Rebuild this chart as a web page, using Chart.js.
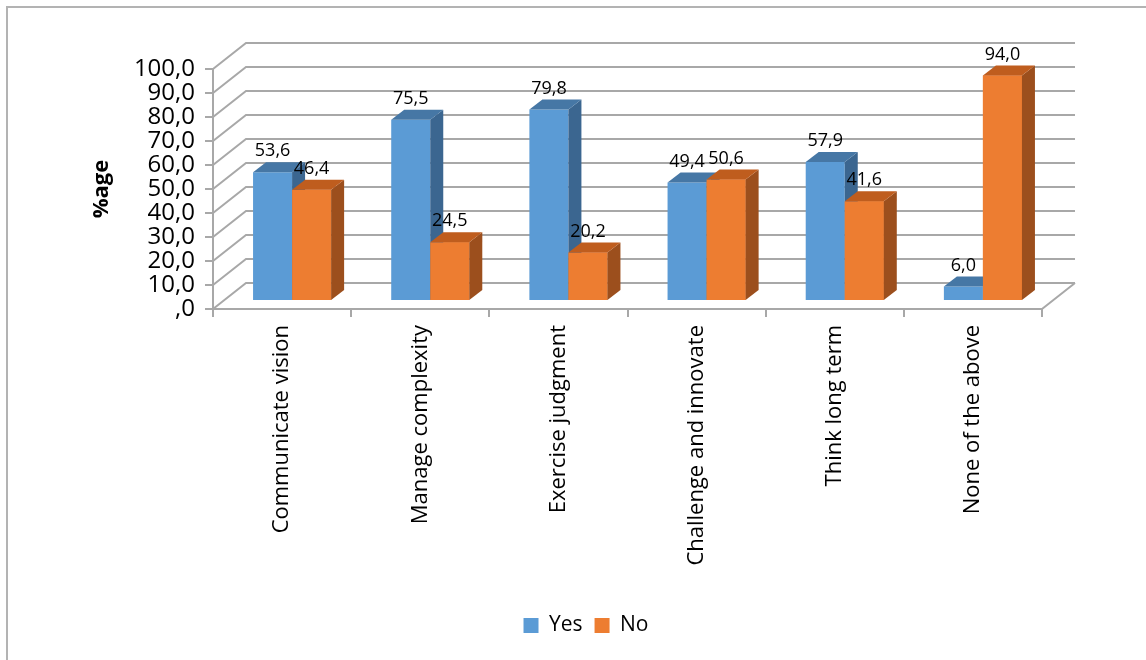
<!DOCTYPE html>
<html>
<head>
<meta charset="utf-8">
<script src="https://cdn.jsdelivr.net/npm/chart.js@4.4.1/dist/chart.umd.min.js"></script>
<style>
html, body { margin: 0; padding: 0; background: #fff; }
#wrap { width: 1146px; height: 660px; }
</style>
</head>
<body>
<div id="wrap"><canvas id="chart"></canvas></div>
<script>
var categories = ['Communicate vision', 'Manage complexity', 'Exercise judgment',
                  'Challenge and innovate', 'Think long term', 'None of the above'];
var yesValues = [53.6, 75.5, 79.8, 49.4, 57.9, 6.0];
var noValues = [46.4, 24.5, 20.2, 50.6, 41.6, 94.0];
var yTickLabels = [',0', '10,0', '20,0', '30,0', '40,0', '50,0', '60,0', '70,0', '80,0', '90,0', '100,0'];

// fake 3d offsets
var barShift = { x: 10, y: -8 };
var barDepth = { x: 13, y: -10 };
var wallShift = { x: 33, y: -26 };
var gridColor = '#a8a8a8';

function fmt(v) {
    return v.toFixed(1).replace('.', ',');
}

function drawFaces(ctx, bar, ds) {
    var p = bar.getProps(['x', 'y', 'base', 'width'], true);
    var l = p.x - p.width / 2, r = p.x + p.width / 2;
    ctx.fillStyle = ds.sideColor;
    ctx.beginPath();
    ctx.moveTo(r, p.y);
    ctx.lineTo(r + barDepth.x, p.y + barDepth.y);
    ctx.lineTo(r + barDepth.x, p.base + barDepth.y);
    ctx.lineTo(r, p.base);
    ctx.closePath();
    ctx.fill();
    ctx.fillStyle = ds.topColor;
    ctx.beginPath();
    ctx.moveTo(l, p.y);
    ctx.lineTo(r, p.y);
    ctx.lineTo(r + barDepth.x, p.y + barDepth.y);
    ctx.lineTo(l + barDepth.x, p.y + barDepth.y);
    ctx.closePath();
    ctx.fill();
}

var box3d = {
    id: 'box3d',
    beforeDraw: function (chart) {
        var ctx = chart.ctx;
        ctx.save();
        ctx.strokeStyle = '#b3b3b3';
        ctx.lineWidth = 2;
        ctx.strokeRect(7, 7, 1200, 700);
        ctx.restore();
    },
    beforeDatasetsDraw: function (chart) {
        var ctx = chart.ctx, ys = chart.scales.y, a = chart.chartArea;
        ctx.save();
        ctx.strokeStyle = gridColor;
        ctx.lineWidth = 2;
        ctx.beginPath();
        ys.ticks.forEach(function (t) {
            var py = ys.getPixelForValue(t.value);
            ctx.moveTo(a.left, py);
            ctx.lineTo(a.left + wallShift.x, py + wallShift.y);
            ctx.lineTo(a.right + wallShift.x, py + wallShift.y);
        });
        ctx.moveTo(a.right, a.bottom);
        ctx.lineTo(a.right + wallShift.x, a.bottom + wallShift.y);
        ctx.stroke();
        ctx.restore();
        // bars sit a little behind the front of the box
        ctx.save();
        ctx.translate(barShift.x, barShift.y);
    },
    afterDatasetsDraw: function (chart) {
        var ctx = chart.ctx;
        var sets = chart.data.datasets;
        var yesBars = chart.getDatasetMeta(0).data;
        var noBars = chart.getDatasetMeta(1).data;
        for (var j = 0; j < yesBars.length; j++) {
            drawFaces(ctx, yesBars[j], sets[0]);
            noBars[j].draw(ctx);
            drawFaces(ctx, noBars[j], sets[1]);
        }
        ctx.fillStyle = '#000';
        ctx.font = '18px "Open Sans"';
        ctx.textAlign = 'center';
        ctx.textBaseline = 'middle';
        sets.forEach(function (ds, i) {
            chart.getDatasetMeta(i).data.forEach(function (bar, k) {
                var p = bar.getProps(['x', 'y'], true);
                ctx.fillText(fmt(ds.data[k]), p.x, p.y - 21);
            });
        });
        ctx.restore();
    }
};

Chart.defaults.font.family = '"Open Sans", sans-serif';
Chart.defaults.color = '#000';

var ctx = document.getElementById('chart').getContext('2d');
var myChart = new Chart(ctx, {
    type: 'bar',
    data: {
        labels: categories,
        datasets: [{
            label: 'Yes',
            data: yesValues,
            backgroundColor: '#5b9bd5',
            topColor: '#4677a5',
            sideColor: '#3b6690'
        }, {
            label: 'No',
            data: noValues,
            backgroundColor: '#ed7d31',
            topColor: '#bf5d1e',
            sideColor: '#9c4f1d'
        }]
    },
    options: {
        animation: false,
        responsive: true,
        maintainAspectRatio: false,
        categoryPercentage: 0.565,
        barPercentage: 1,
        datasets: { bar: { clip: false } },
        layout: { padding: { left: 26, right: 0, top: 69, bottom: 14 } },
        plugins: {
            tooltip: { enabled: false },
            legend: {
                position: 'bottom',
                labels: {
                    boxWidth: 15,
                    boxHeight: 15,
                    padding: 12,
                    font: { size: 21 }
                }
            }
        },
        scales: {
            x: {
                grid: { drawOnChartArea: false, tickLength: 8, color: gridColor, lineWidth: 2 },
                border: { color: gridColor, width: 2 },
                ticks: { minRotation: 90, maxRotation: 90, padding: 8, font: { size: 22 } },
                afterFit: function (s) { s.height = 294; }
            },
            y: {
                min: 0,
                max: 100,
                grid: { drawOnChartArea: false, tickLength: 8, color: gridColor, lineWidth: 2 },
                border: { color: gridColor, width: 2 },
                ticks: {
                    stepSize: 10,
                    autoSkip: false,
                    padding: 10,
                    font: { size: 24 },
                    callback: function (v, i) { return yTickLabels[i]; }
                },
                title: {
                    display: true,
                    text: '%age',
                    font: { size: 22, weight: 'bold' },
                    padding: { top: 63 }
                },
                afterFit: function (s) { s.width = 187; }
            },
            spacer: {
                position: 'right',
                grid: { display: false },
                border: { display: false },
                ticks: { display: false },
                afterFit: function (s) { s.width = 104; }
            }
        }
    },
    plugins: [box3d]
});
</script>
</body>
</html>
